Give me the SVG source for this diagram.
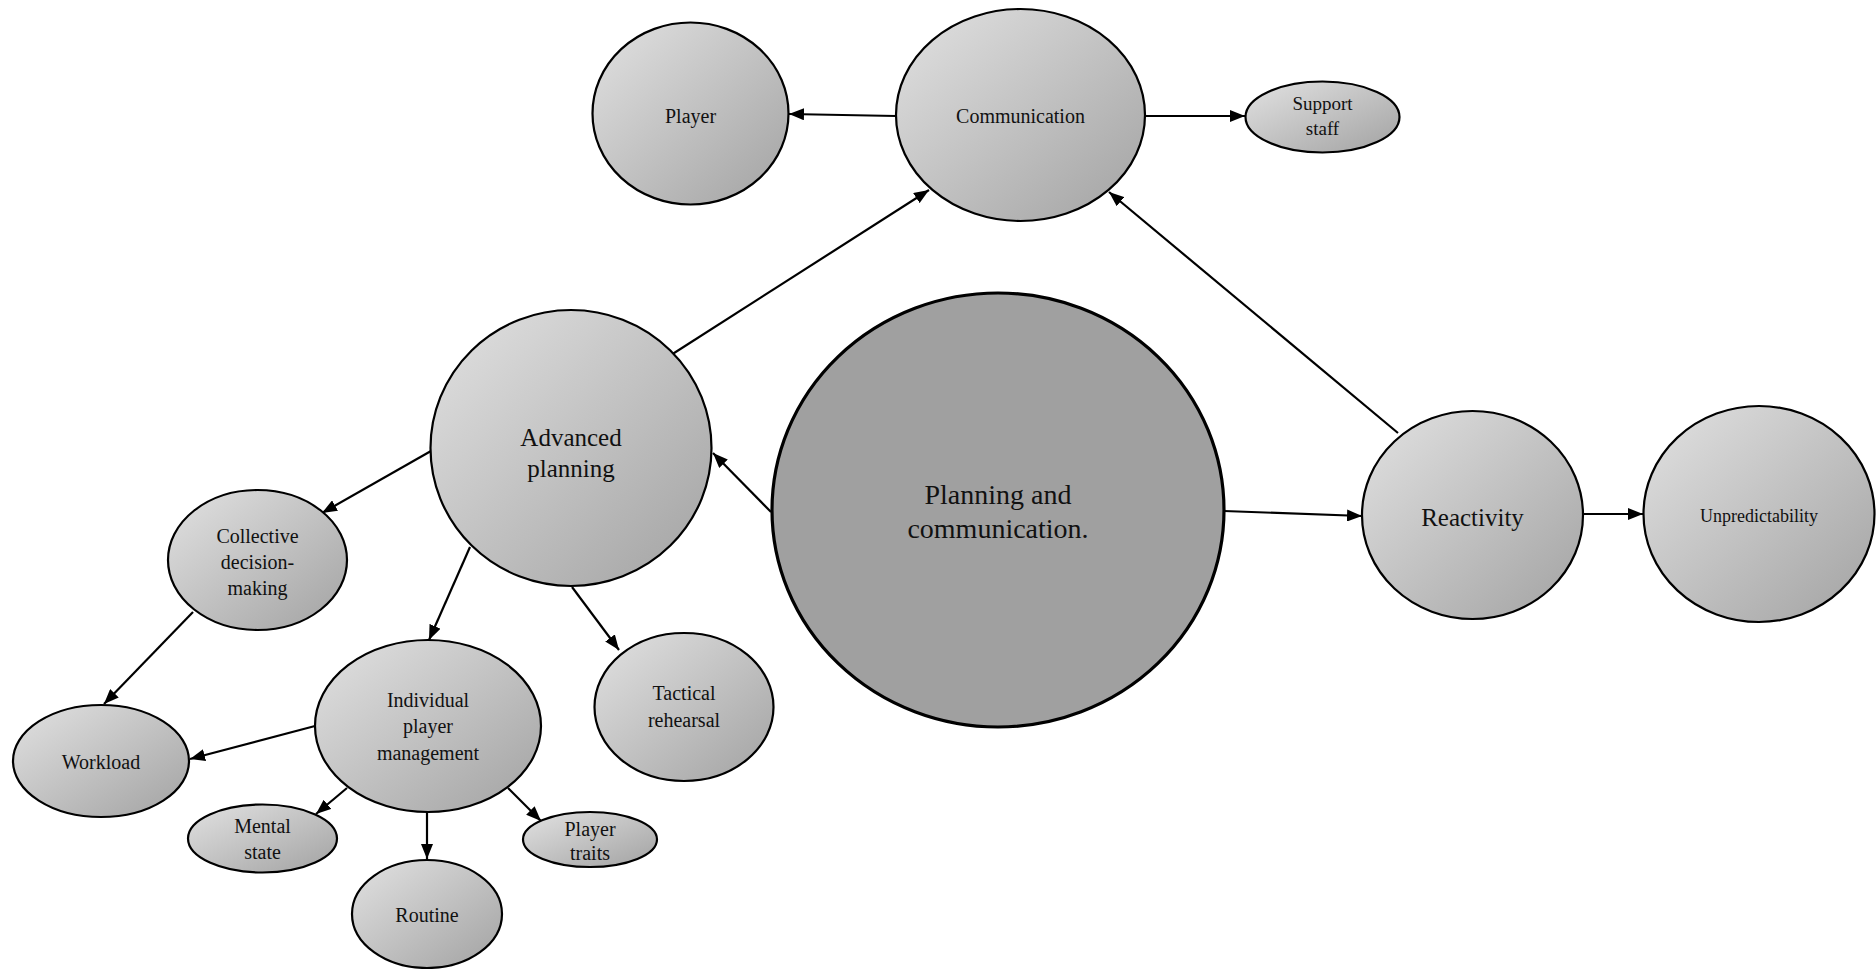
<svg xmlns="http://www.w3.org/2000/svg" width="1876" height="969" viewBox="0 0 1876 969">
<style>
.n{fill:url(#g);stroke:#000;stroke-width:2.2}
.c{fill:#a0a0a0;stroke:#000;stroke-width:3.2}
text{font-family:"Liberation Serif","Times New Roman",serif;fill:#111;text-anchor:middle}
.e line{stroke:#000;stroke-width:2.2;marker-end:url(#a)}
</style>
<defs>
<linearGradient id="g" x1="0" y1="0" x2="1" y2="1">
<stop offset="0" stop-color="#e2e2e2"/>
<stop offset="1" stop-color="#a2a2a2"/>
</linearGradient>
<marker id="a" markerUnits="userSpaceOnUse" markerWidth="16" markerHeight="12" refX="15" refY="6" orient="auto">
<path d="M0,0 L15,6 L0,12 Z" fill="#000"/>
</marker>
</defs>
<g id="connectors" class="e">
<line x1="896" y1="116" x2="789" y2="114"/>
<line x1="1145" y1="116" x2="1245" y2="116"/>
<line x1="671" y1="355" x2="929" y2="190"/>
<line x1="1398" y1="433" x2="1109" y2="192"/>
<line x1="771" y1="512" x2="713" y2="453"/>
<line x1="1224" y1="511" x2="1362" y2="516"/>
<line x1="1583" y1="514" x2="1643" y2="514"/>
<line x1="431" y1="451" x2="322" y2="513"/>
<line x1="470" y1="547" x2="429" y2="640"/>
<line x1="572" y1="587" x2="619" y2="650"/>
<line x1="193" y1="612" x2="104" y2="704"/>
<line x1="315" y1="726" x2="190" y2="759"/>
<line x1="347" y1="788" x2="316" y2="814"/>
<line x1="427" y1="812" x2="427" y2="859"/>
<line x1="508" y1="788" x2="541" y2="821"/>
</g>
<g id="player"><ellipse class="n" cx="690.5" cy="113.5" rx="98" ry="91"/><text x="690.5" y="123" font-size="20">Player</text></g>
<g id="communication"><ellipse class="n" cx="1020.5" cy="115" rx="124.5" ry="106"/><text x="1020.5" y="123" font-size="20">Communication</text></g>
<g id="support-staff"><ellipse class="n" cx="1322.5" cy="117" rx="77" ry="35.5"/><text x="1322.5" y="110" font-size="19">Support</text><text x="1322.5" y="135" font-size="19">staff</text></g>
<g id="advanced-planning"><ellipse class="n" cx="571" cy="448" rx="140.5" ry="138"/><text x="571" y="446" font-size="25">Advanced</text><text x="571" y="477" font-size="25">planning</text></g>
<g id="planning-communication"><ellipse class="c" cx="998" cy="510" rx="226" ry="217"/><text x="998" y="504" font-size="28">Planning and</text><text x="998" y="538" font-size="28">communication.</text></g>
<g id="reactivity"><ellipse class="n" cx="1472.5" cy="515" rx="110.5" ry="104"/><text x="1472.5" y="526" font-size="25">Reactivity</text></g>
<g id="unpredictability"><ellipse class="n" cx="1759" cy="514" rx="115.5" ry="108"/><text x="1759" y="522" font-size="18">Unpredictability</text></g>
<g id="collective-decision-making"><ellipse class="n" cx="257.5" cy="560" rx="89.5" ry="70"/><text x="257.5" y="543" font-size="20">Collective</text><text x="257.5" y="569" font-size="20">decision-</text><text x="257.5" y="595" font-size="20">making</text></g>
<g id="workload"><ellipse class="n" cx="101" cy="761" rx="88" ry="56"/><text x="101" y="769" font-size="20">Workload</text></g>
<g id="individual-player-management"><ellipse class="n" cx="428" cy="726" rx="113" ry="86"/><text x="428" y="707" font-size="20">Individual</text><text x="428" y="733" font-size="20">player</text><text x="428" y="760" font-size="20">management</text></g>
<g id="tactical-rehearsal"><ellipse class="n" cx="684" cy="707" rx="89.5" ry="74"/><text x="684" y="700" font-size="20">Tactical</text><text x="684" y="727" font-size="20">rehearsal</text></g>
<g id="mental-state"><ellipse class="n" cx="262.5" cy="838.5" rx="74.5" ry="34"/><text x="262.5" y="833" font-size="20">Mental</text><text x="262.5" y="859" font-size="20">state</text></g>
<g id="routine"><ellipse class="n" cx="427" cy="914" rx="75" ry="54"/><text x="427" y="922" font-size="20">Routine</text></g>
<g id="player-traits"><ellipse class="n" cx="590" cy="839.5" rx="67" ry="27.5"/><text x="590" y="836" font-size="20">Player</text><text x="590" y="860" font-size="20">traits</text></g>
</svg>
